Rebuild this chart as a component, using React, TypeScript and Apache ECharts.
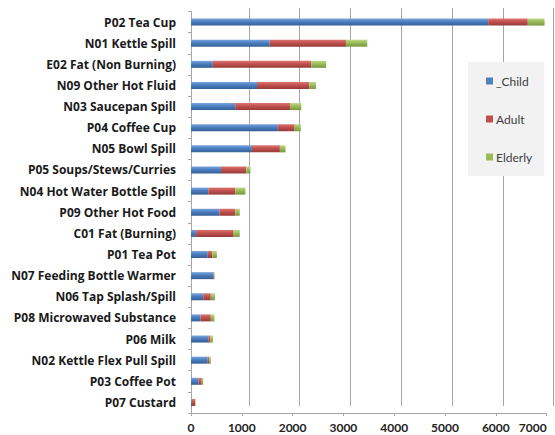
import React, { useEffect, useRef } from "react";
import * as echarts from "echarts";

const categories = [
  "P02 Tea Cup",
  "N01 Kettle Spill",
  "E02 Fat (Non Burning)",
  "N09 Other Hot Fluid",
  "N03 Saucepan Spill",
  "P04 Coffee Cup",
  "N05 Bowl Spill",
  "P05 Soups/Stews/Curries",
  "N04 Hot Water Bottle Spill",
  "P09 Other Hot Food",
  "C01 Fat (Burning)",
  "P01 Tea Pot",
  "N07 Feeding Bottle Warmer",
  "N06 Tap Splash/Spill",
  "P08 Microwaved Substance",
  "P06 Milk",
  "N02 Kettle Flex Pull Spill",
  "P03 Coffee Pot",
  "P07 Custard",
];
const child = [5850, 1550, 430, 1300, 870, 1710, 1200, 590, 340, 560, 100, 330, 440, 240, 190, 340, 330, 150, 20];
const adult = [780, 1500, 1940, 1030, 1080, 330, 550, 500, 530, 310, 740, 90, 15, 150, 200, 40, 30, 60, 60];
const elderly = [330, 420, 290, 130, 220, 120, 110, 80, 200, 90, 120, 90, 10, 80, 70, 50, 30, 30, 10];
const seriesNames = ["_Child", "Adult", "Elderly"];
const xTicks = { min: 0, max: 7000, interval: 1000 };

const grad = (a: string, b: string, c: string) =>
  new echarts.graphic.LinearGradient(0, 0, 0, 1, [
    { offset: 0, color: a },
    { offset: 0.45, color: b },
    { offset: 1, color: c },
  ]);

export default function App() {
  const ref = useRef<HTMLDivElement>(null);
  useEffect(() => {
    if (!ref.current) return;
    const chart = echarts.init(ref.current, undefined, { renderer: "svg" });
    const flat = ["#4F81BD", "#C0504D", "#9BBB59"];
    const fills = [
      grad("#7aa3dc", "#4a7ebf", "#355f95"),
      grad("#dc7572", "#c0504d", "#963b39"),
      grad("#bcd982", "#9bbb59", "#789640"),
    ];
    const datas = [child, adult, elderly];
    chart.setOption({
      animation: false,
      grid: [
        { left: 191, right: 8.4, top: 11.5, bottom: 22, outerBoundsMode: "none", containLabel: false },
        { left: 248.8, right: 1.4, top: 8, bottom: 29, outerBoundsMode: "none", containLabel: false },
      ],
      legend: {
        orient: "vertical",
        left: 468,
        top: 62,
        backgroundColor: "#f2f2f2",
        padding: [13, 12, 13, 18],
        itemGap: 26,
        itemWidth: 7,
        itemHeight: 7,
        icon: "rect",
        textStyle: { fontFamily: "Lato", fontSize: 12, color: "#404040", padding: [0, 0, 0, -2] },
        data: seriesNames.map((n, i) => ({ name: n, itemStyle: { color: flat[i] } })),
      },
      xAxis: [
        {
          type: "value",
          gridIndex: 0,
          ...xTicks,
          axisLine: { show: true, lineStyle: { color: "#a6a6a6" } },
          axisTick: { show: true, length: 3, lineStyle: { color: "#a6a6a6" } },
          splitLine: { show: false },
          axisLabel: {
            margin: 8,
            fontFamily: "Lato",
            fontSize: 12,
            lineHeight: 12,
            fontWeight: "bold",
            color: "#222",
            alignMaxLabel: "right",
            formatter: (v: number) => String(v),
          },
        },
        {
          type: "value",
          gridIndex: 1,
          min: 1000,
          max: 7000,
          interval: 1000,
          axisLine: { show: false },
          axisTick: { show: false },
          axisLabel: { show: false },
          splitLine: { show: true, lineStyle: { color: "#a6a6a6", width: 1 } },
        },
      ],
      yAxis: [
        {
          type: "category",
          gridIndex: 0,
          inverse: true,
          data: categories,
          axisLine: { show: true, lineStyle: { color: "#a6a6a6" } },
          axisTick: { show: true, length: 3, lineStyle: { color: "#a6a6a6" } },
          axisLabel: { margin: 15, fontFamily: "Open Sans", fontSize: 12, fontWeight: "bold", color: "#1a1a1a" },
        },
        { type: "value", gridIndex: 1, show: false },
      ],
      series: datas.map((d, i) => ({
        name: seriesNames[i],
        type: "bar",
        stack: "total",
        xAxisIndex: 0,
        yAxisIndex: 0,
        barWidth: 7,
        itemStyle: { color: fills[i] },
        data: d,
      })),
    });
    return () => chart.dispose();
  }, []);
  return (
    <div
      ref={ref}
      style={{ position: "fixed", left: 0, top: 0, width: 555, height: 435, background: "#fff" }}
    />
  );
}
